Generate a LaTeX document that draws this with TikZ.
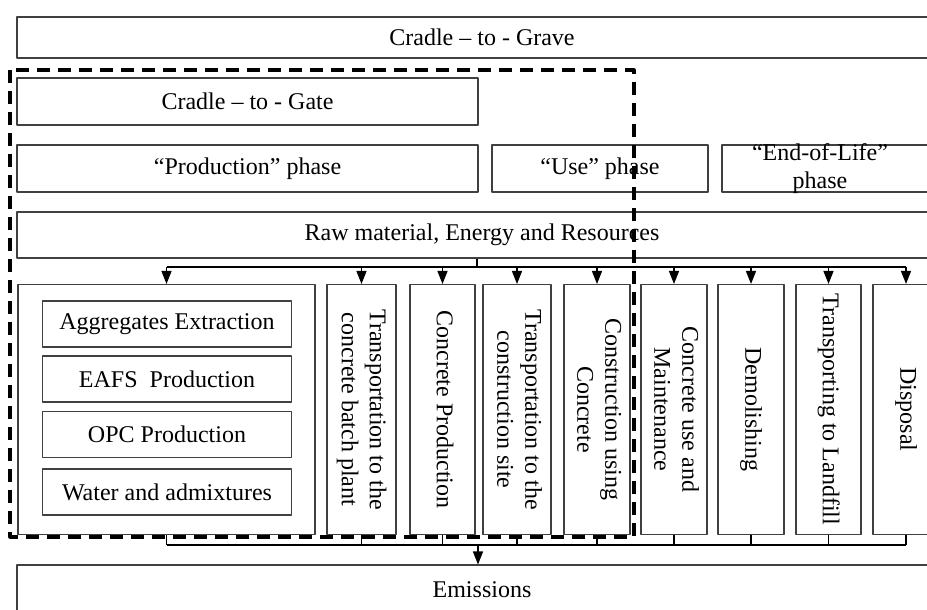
\documentclass[tikz,border=0pt]{standalone}
\usepackage{fontspec}
\setmainfont{Liberation Serif}
\usetikzlibrary{arrows.meta}
\newcommand{\vtext}[1]{\rotatebox{-90}{\begin{tabular}{@{}c@{}}#1\end{tabular}}}
\begin{document}
\begin{tikzpicture}[x=1pt, y=-1pt, line join=round, >={Triangle[width=10pt,length=13pt]},
	blk/.style={draw=black!75, line width=1.1pt, fill=white, rectangle, inner sep=0pt, align=center},
	vblk/.style={blk, minimum height=250},
	conn/.style={line width=1.3pt},
	gatebox/.style={line width=3.2pt, dash pattern=on 13pt off 8pt},
	font=\fontsize{24}{28}\selectfont]
	\clip (0,0) rectangle (927,610);
	\node[blk, minimum width=930, minimum height=41] (grave) at (482,37.5) {Cradle – to - Grave};
	\node[blk, minimum width=461, minimum height=47] (gate) at (247.5,101.5) {Cradle – to - Gate};
	\node[blk, minimum width=461, minimum height=47] (prod) at (247.5,168.5) {“Production” phase};
	\node[blk, minimum width=216, minimum height=47] (use) at (600,168.5) {“Use” phase};
	\node[blk, minimum width=225, minimum height=47] (eolbox) at (834.5,168.5) {};
	\node[align=center, inner sep=0pt] (eol) at (820,169) {“End-of-Life”\\phase};
	\node[blk, minimum width=930, minimum height=46] (raw) at (482,235) {Raw material, Energy and Resources};
	\node[blk, minimum width=297, minimum height=250] (stages) at (166.5,409.5) {};
	\node[blk, minimum width=249, minimum height=46] (aggr) at (167,324) {Aggregates Extraction};
	\node[blk, minimum width=249, minimum height=46] (eafs) at (167,379) {EAFS\ \ Production};
	\node[blk, minimum width=249, minimum height=46] (opc) at (167,434.5) {OPC Production};
	\node[blk, minimum width=249, minimum height=46] (water) at (167,492) {Water and admixtures};
	\node[vblk, minimum width=69] (tbatch) at (361.5,409.5) {\vtext{Transportation to the\\concrete batch plant}};
	\node[vblk, minimum width=65] (cprod) at (442.5,409.5) {\vtext{Concrete Production}};
	\node[vblk, minimum width=68] (tsite) at (517,409.5) {\vtext{Transportation to the\\construction site}};
	\node[vblk, minimum width=66] (cons) at (597,409.5) {\vtext{Construction using\\Concrete}};
	\node[vblk, minimum width=66] (cuse) at (674,409.5) {\vtext{Concrete use and\\Maintenance}};
	\node[vblk, minimum width=66] (demol) at (751,409.5) {\vtext{Demolishing}};
	\node[vblk, minimum width=65] (landf) at (828.5,409.5) {\vtext{Transporting to Landfill}};
	\node[vblk, minimum width=66] (disp) at (906,409.5) {\vtext{Disposal}};
	\node[blk, minimum width=930, minimum height=50] (emis) at (482,590) {Emissions};
	\coordinate (split) at (477,267);
	\coordinate (merge) at (478,545);
	\draw[conn] (raw.south -| split) -- (split);
	\draw[conn] (stages.north |- split) -- (disp.north |- split);
	\draw[conn] (stages.south |- merge) -- (disp.south |- merge);
	\foreach \n in {stages,tbatch,cprod,tsite,cons,cuse,demol,landf,disp}{
		\draw[conn, ->] (\n.north |- split) -- (\n.north);
		\draw[conn] (\n.south) -- (\n.south |- merge);
	}
	\draw[conn, ->] (merge) -- (merge |- emis.north);
	\draw[gatebox] (10,70) rectangle (634,537);
\end{tikzpicture}
\end{document}
